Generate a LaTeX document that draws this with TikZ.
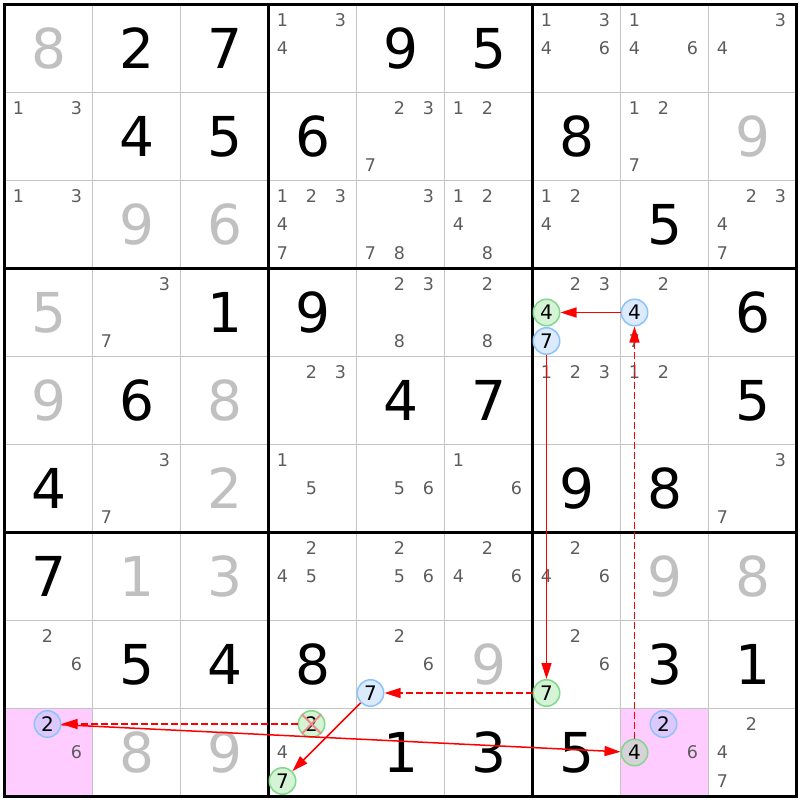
\documentclass[tikz,border=0pt]{standalone}
\usepackage{fontspec}
\setmainfont{DejaVu Sans}
\usetikzlibrary{arrows.meta}
\definecolor{givengray}{HTML}{C0C0C0}
\definecolor{candgray}{HTML}{5E5E5E}
\definecolor{thingrid}{HTML}{C4C4C4}
\definecolor{pinkbg}{HTML}{FFCCFF}
\definecolor{hlblue}{RGB}{152,195,252}
\definecolor{hlblueline}{HTML}{8CC3FA}
\definecolor{hlgreen}{RGB}{135,226,135}
\definecolor{hlgreenline}{HTML}{82D78C}
\definecolor{xred}{HTML}{F08A8A}
\definecolor{linkred}{HTML}{FF0000}
\tikzset{
  bigdigit/.style={inner sep=0pt, font=\fontsize{55}{60}\selectfont},
  canddigit/.style={inner sep=0pt, text=candgray, font=\fontsize{17.5}{20}\selectfont},
  hlbase/.style={circle, minimum size=26.5pt, inner sep=0pt, line width=1.5pt,
    fill opacity=0.35, text opacity=1, draw opacity=1, text=black,
    font=\fontsize{20}{22}\selectfont},
  hlb/.style={hlbase, draw=hlblueline, fill=hlblue},
  hlg/.style={hlbase, draw=hlgreenline, fill=hlgreen},
  link/.style={draw=linkred, line width=1.5pt, -{Triangle[length=16pt,width=10pt]}},
  weaklink/.style={link, dash pattern=on 6.5pt off 3.5pt},
  xmark/.style={draw=xred, line width=2pt},
}
\newcommand\bigd[4]{%
  \node[bigdigit, text=#1] (g#2#3) at ({4.5+88*#3+44},{4.5+88*#2+44}) {#4};}
\newcommand\cands[3]{%
  \foreach \d in {#3} {%
    \pgfmathsetmacro\cx{4.5+88*#2+14+29*mod(\d-1,3)}%
    \pgfmathsetmacro\cy{4.5+88*#1+15.5+28.5*int((\d-1)/3)}%
    \node[canddigit] (k#1#2\d) at (\cx,\cy) {\d};
  }}
\newcommand\hlc[4]{%
  \pgfmathsetmacro\cx{4.5+88*#3+14+29*mod(#4-1,3)}%
  \pgfmathsetmacro\cy{4.5+88*#2+15.5+28.5*int((#4-1)/3)}%
  \node[#1] (h#2#3#4) at (\cx,\cy) {#4};}
\begin{document}
\begin{tikzpicture}[x=1pt,y=-1pt]
\useasboundingbox (0,0) rectangle (800,800);
\fill[white] (0,0) rectangle (800,800);
% highlighted cells
\fill[pinkbg] (4.5,708.5) rectangle (92.5,796.5);
\fill[pinkbg] (620.5,708.5) rectangle (708.5,796.5);
% grid
\foreach \i in {1,2,4,5,7,8} {
  \draw[thingrid, line width=1.5pt] ({4.5+88*\i},4.5) -- ({4.5+88*\i},796.5);
  \draw[thingrid, line width=1.5pt] (4.5,{4.5+88*\i}) -- (796.5,{4.5+88*\i});
}
\foreach \i in {3,6} {
  \draw[black, line width=3pt] ({4.5+88*\i},4.5) -- ({4.5+88*\i},796.5);
  \draw[black, line width=3pt] (4.5,{4.5+88*\i}) -- (796.5,{4.5+88*\i});
}
\draw[black, line width=3pt] (4.5,4.5) rectangle (796.5,796.5);
% gray digits
\bigd{givengray}{0}{0}{8}
\bigd{givengray}{1}{8}{9}
\bigd{givengray}{2}{1}{9}
\bigd{givengray}{2}{2}{6}
\bigd{givengray}{3}{0}{5}
\bigd{givengray}{4}{0}{9}
\bigd{givengray}{4}{2}{8}
\bigd{givengray}{5}{2}{2}
\bigd{givengray}{6}{1}{1}
\bigd{givengray}{6}{2}{3}
\bigd{givengray}{6}{7}{9}
\bigd{givengray}{6}{8}{8}
\bigd{givengray}{7}{5}{9}
\bigd{givengray}{8}{1}{8}
\bigd{givengray}{8}{2}{9}
% black digits
\bigd{black}{0}{1}{2}
\bigd{black}{0}{2}{7}
\bigd{black}{0}{4}{9}
\bigd{black}{0}{5}{5}
\bigd{black}{1}{1}{4}
\bigd{black}{1}{2}{5}
\bigd{black}{1}{3}{6}
\bigd{black}{1}{6}{8}
\bigd{black}{2}{7}{5}
\bigd{black}{3}{2}{1}
\bigd{black}{3}{3}{9}
\bigd{black}{3}{8}{6}
\bigd{black}{4}{1}{6}
\bigd{black}{4}{4}{4}
\bigd{black}{4}{5}{7}
\bigd{black}{4}{8}{5}
\bigd{black}{5}{0}{4}
\bigd{black}{5}{6}{9}
\bigd{black}{5}{7}{8}
\bigd{black}{6}{0}{7}
\bigd{black}{7}{1}{5}
\bigd{black}{7}{2}{4}
\bigd{black}{7}{3}{8}
\bigd{black}{7}{7}{3}
\bigd{black}{7}{8}{1}
\bigd{black}{8}{4}{1}
\bigd{black}{8}{5}{3}
\bigd{black}{8}{6}{5}
% candidates
\cands{0}{3}{1,3,4}
\cands{0}{6}{1,3,4,6}
\cands{0}{7}{1,4,6}
\cands{0}{8}{3,4}
\cands{1}{0}{1,3}
\cands{1}{4}{2,3,7}
\cands{1}{5}{1,2}
\cands{1}{7}{1,2,7}
\cands{2}{0}{1,3}
\cands{2}{3}{1,2,3,4,7}
\cands{2}{4}{3,7,8}
\cands{2}{5}{1,2,4,8}
\cands{2}{6}{1,2,4}
\cands{2}{8}{2,3,4,7}
\cands{3}{1}{3,7}
\cands{3}{4}{2,3,8}
\cands{3}{5}{2,8}
\cands{3}{6}{2,3}
\cands{3}{7}{2,7}
\cands{4}{3}{2,3}
\cands{4}{6}{1,2,3}
\cands{4}{7}{1,2}
\cands{5}{1}{3,7}
\cands{5}{3}{1,5}
\cands{5}{4}{5,6}
\cands{5}{5}{1,6}
\cands{5}{8}{3,7}
\cands{6}{3}{2,4,5}
\cands{6}{4}{2,5,6}
\cands{6}{5}{2,4,6}
\cands{6}{6}{2,4,6}
\cands{7}{0}{2,6}
\cands{7}{4}{2,6}
\cands{7}{6}{2,6}
\cands{8}{0}{6}
\cands{8}{3}{4}
\cands{8}{7}{6}
\cands{8}{8}{2,4,7}
% highlighted candidates
\hlc{hlg}{3}{6}{4}
\hlc{hlb}{3}{6}{7}
\hlc{hlb}{3}{7}{4}
\hlc{hlg}{7}{6}{7}
\hlc{hlb}{7}{4}{7}
\hlc{hlg}{8}{3}{2}
\hlc{hlg}{8}{3}{7}
\hlc{hlb}{8}{0}{2}
\hlc{hlb}{8}{7}{2}
\hlc{hlg}{8}{7}{4}
% elimination cross
\draw[xmark] ([shift={(-9.5,-9.5)}]h832.center) -- ([shift={(9.5,9.5)}]h832.center);
\draw[xmark] ([shift={(9.5,-9.5)}]h832.center) -- ([shift={(-9.5,9.5)}]h832.center);
% links
\draw[link] (h374) -- (h364);
\draw[link] (h367) -- (h767);
\draw[weaklink] (h767) -- (h747);
\draw[link] (h747) -- (h837);
\draw[weaklink] (h832) -- (h802);
\draw[link] (h802) -- (h874);
\draw[weaklink] (h874) -- (h374);
\end{tikzpicture}
\end{document}
